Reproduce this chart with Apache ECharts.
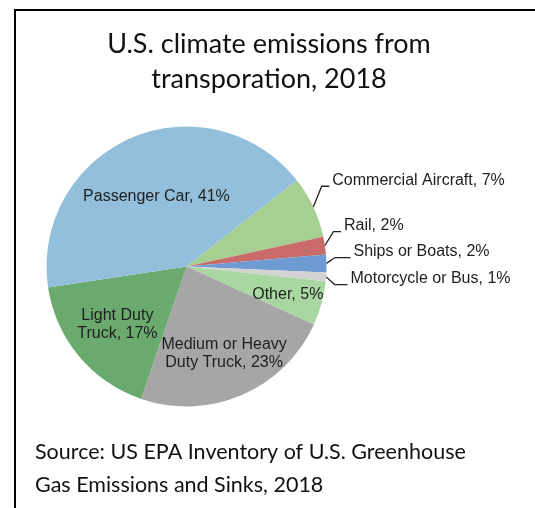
<!DOCTYPE html>
<html><head><meta charset="utf-8">
<script src="https://cdn.jsdelivr.net/npm/echarts@6/dist/echarts.min.js"></script>
<style>html,body{margin:0;padding:0;background:#fff}#c{width:535px;height:508px}</style>
</head><body><div id="c"></div>
<script>
const categories = ['Commercial Aircraft', 'Rail', 'Ships or Boats', 'Motorcycle or Bus', 'Other', 'Medium or Heavy\nDuty Truck', 'Light Duty\nTruck', 'Passenger Car'];
const shares = [7, 2, 2, 1, 5, 23, 17, 41];
const colors = ['#a5d091', '#c96b6b', '#6f9bd3', '#d3d3d3', '#a9d7a1', '#a6a6a6', '#6aaa6e', '#93bfdc'];
const titleLines = ['U.S. climate emissions from', 'transporation, 2018'];
const sourceLines = ['Source: US EPA Inventory of U.S. Greenhouse', 'Gas Emissions and Sinks, 2018'];

const CX = 186.5, CY = 266.5, START = 38, RADIUS = 140;
const insideRadius = { 4: 102, 5: 92, 6: 87, 7: 73 };
const outsideShift = { 0: [0, -22], 1: [1, -18], 2: [9, -12], 3: [7, -5] };
const total = shares.reduce((a, b) => a + b, 0);
const mids = [];
let acc = 0;
shares.forEach(v => { mids.push((START - (acc + v / 2) / total * 360) * Math.PI / 180); acc += v; });

const data = categories.map((name, i) => {
  const inside = insideRadius[i] !== undefined;
  return {
    name, value: shares[i],
    itemStyle: { color: colors[i] },
    label: { position: inside ? 'inside' : 'outside' },
    labelLine: { show: !inside }
  };
});

const chart = echarts.init(document.getElementById('c'), null, { renderer: 'canvas' });
chart.setOption({
  animation: false,
  backgroundColor: '#fff',
  title: [
    { text: titleLines.join('\n'), left: 269, top: 27, textAlign: 'center', padding: 0,
      textStyle: { fontFamily: 'Lato', fontWeight: 'normal', fontSize: 27, lineHeight: 35, color: '#111' } },
    { text: sourceLines.join('\n'), left: 35, top: 436, padding: 0,
      textStyle: { fontFamily: 'Lato', fontWeight: 'normal', fontSize: 21.5, lineHeight: 33, color: '#111' } }
  ],
  graphic: [
    { type: 'line', shape: { x1: 14, y1: 10, x2: 535, y2: 10 }, style: { stroke: '#000', lineWidth: 2 } },
    { type: 'line', shape: { x1: 15, y1: 9, x2: 15, y2: 508 }, style: { stroke: '#000', lineWidth: 2 } }
  ],
  series: [{
    type: 'pie',
    center: [CX, CY],
    radius: RADIUS,
    startAngle: START,
    clockwise: true,
    avoidLabelOverlap: true,
    itemStyle: { borderWidth: 0 },
    label: {
      formatter: '{b}, {c}%',
      fontFamily: 'Liberation Sans, Arial',
      fontSize: 16, lineHeight: 18, color: '#1e1e1e',
      distanceToLabelLine: 2
    },
    labelLine: { length: 10, length2: 8, lineStyle: { color: '#222', width: 1.3 } },
    labelLayout: function (p) {
      const i = p.dataIndex;
      if (insideRadius[i] === undefined) {
        const s = outsideShift[i];
        const r = p.labelRect;
        const left = r.x + s[0];
        const lineY = r.y + r.height / 2 + s[1] + 5.5;
        const p0 = [CX + RADIUS * Math.cos(mids[i]), CY - RADIUS * Math.sin(mids[i])];
        const p1 = [p0[0] + 8.5, lineY];
        const p2 = [left - 3, lineY];
        return { dx: s[0], dy: s[1], labelLinePoints: [p0, p1, p2] };
      }
      const d = insideRadius[i] - RADIUS / 2;
      return { dx: d * Math.cos(mids[i]), dy: -d * Math.sin(mids[i]) };
    },
    data
  }]
});
</script></body></html>
